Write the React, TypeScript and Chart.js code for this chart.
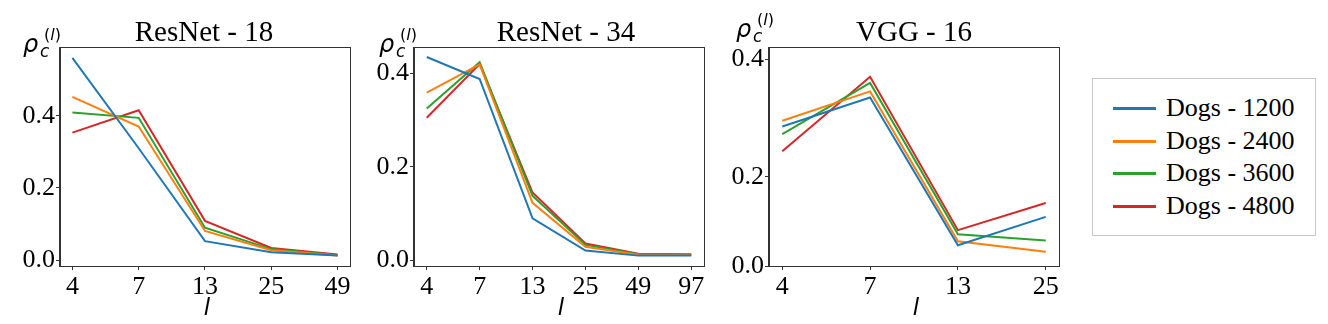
import React, { useEffect, useRef } from 'react';
import { Chart, registerables, LinearScale } from 'chart.js';

Chart.register(...registerables);

const POWER = 1.21;

class PowerScale extends LinearScale {
  static id = 'power';
  static defaults = LinearScale.defaults;
  getPixelForValue(value: any) {
    if (value === null || value === undefined || isNaN(value)) return NaN;
    const t = (v: number) => Math.sign(v) * Math.pow(Math.abs(v), POWER);
    const s = t((this as any).min);
    const e = t((this as any).max);
    return this.getPixelForDecimal((t(value) - s) / (e - s));
  }
  getValueForPixel(pixel: number) {
    const t = (v: number) => Math.sign(v) * Math.pow(Math.abs(v), POWER);
    const s = t((this as any).min);
    const e = t((this as any).max);
    const d = this.getDecimalForPixel(pixel);
    const tv = s + d * (e - s);
    return Math.sign(tv) * Math.pow(Math.abs(tv), 1 / POWER);
  }
}
Chart.register(PowerScale as any);

// ---------- data ----------
const seriesNames = ['Dogs - 1200', 'Dogs - 2400', 'Dogs - 3600', 'Dogs - 4800'];
const seriesColors = ['#1f77b4', '#ff7f0e', '#2ca02c', '#d62728'];

const resnet18Layers = ['4', '7', '13', '25', '49'];
const resnet18Dogs1200 = [0.56, 0.31, 0.053, 0.022, 0.013];
const resnet18Dogs2400 = [0.452, 0.37, 0.081, 0.028, 0.013];
const resnet18Dogs3600 = [0.409, 0.394, 0.09, 0.031, 0.014];
const resnet18Dogs4800 = [0.353, 0.415, 0.109, 0.034, 0.016];

const resnet34Layers = ['4', '7', '13', '25', '49', '97'];
const resnet34Dogs1200 = [0.435, 0.388, 0.09, 0.021, 0.01, 0.01];
const resnet34Dogs2400 = [0.359, 0.419, 0.123, 0.029, 0.012, 0.012];
const resnet34Dogs3600 = [0.325, 0.424, 0.138, 0.033, 0.013, 0.012];
const resnet34Dogs4800 = [0.305, 0.42, 0.145, 0.036, 0.014, 0.013];

const vgg16Layers = ['4', '7', '13', '25'];
const vgg16Dogs1200 = [0.289, 0.338, 0.06, 0.122];
const vgg16Dogs2400 = [0.299, 0.348, 0.069, 0.044];
const vgg16Dogs3600 = [0.276, 0.362, 0.085, 0.071];
const vgg16Dogs4800 = [0.246, 0.372, 0.094, 0.15];

const yTickStep = 0.2;

type PanelCfg = {
  title: string;
  labels: string[];
  series: number[][];
  left: number;
  width: number;
  axisLeft: number;
  padRight: number;
  xPad: number;
  yMin: number;
  yMax: number;
  yType: string;
  titleX: number;
  rhoX: number;
  rhoY: number;
};

const panels: PanelCfg[] = [
  {
    title: 'ResNet - 18',
    labels: resnet18Layers,
    series: [resnet18Dogs1200, resnet18Dogs2400, resnet18Dogs3600, resnet18Dogs4800],
    left: 0, width: 360, axisLeft: 60, padRight: 10, xPad: 0.187,
    yMin: -0.0158, yMax: 0.59, yType: 'linear', titleX: 204, rhoX: 24, rhoY: 52,
  },
  {
    title: 'ResNet - 34',
    labels: resnet34Layers,
    series: [resnet34Dogs1200, resnet34Dogs2400, resnet34Dogs3600, resnet34Dogs4800],
    left: 360, width: 360, axisLeft: 54, padRight: 16, xPad: 0.241,
    yMin: -0.0122, yMax: 0.4564, yType: 'linear', titleX: 206, rhoX: 20, rhoY: 52,
  },
  {
    title: 'VGG - 16',
    labels: vgg16Layers,
    series: [vgg16Dogs1200, vgg16Dogs2400, vgg16Dogs3600, vgg16Dogs4800],
    left: 720, width: 360, axisLeft: 49, padRight: 21, xPad: 0.151,
    yMin: 0, yMax: 0.4197, yType: 'power', titleX: 194, rhoX: 17, rhoY: 37,
  },
];

const AXIS_COLOR = '#333';

function makeDecorPlugin(cfg: PanelCfg) {
  return {
    id: 'decor',
    afterDraw(chart: any) {
      const { ctx, chartArea } = chart;
      ctx.save();
      ctx.strokeStyle = AXIS_COLOR;
      ctx.lineWidth = 1;
      const l = Math.round(chartArea.left) - 0.5;
      const t = Math.round(chartArea.top) + 0.5;
      const r = Math.round(chartArea.right) + 0.5;
      const b = Math.round(chartArea.bottom) + 0.5;
      ctx.strokeRect(l, t, r - l, b - t);
      // title
      ctx.fillStyle = '#000';
      ctx.textAlign = 'center';
      ctx.textBaseline = 'alphabetic';
      ctx.font = '29px "Liberation Serif"';
      ctx.fillText(cfg.title, cfg.titleX, 41);
      // x label
      ctx.font = 'italic 23px "DejaVu Sans"';
      ctx.fillText('l', (chartArea.left + chartArea.right) / 2 + 2, 315);
      // y label rho_c^(l)
      ctx.textAlign = 'left';
      ctx.font = 'italic 24px "DejaVu Sans"';
      ctx.fillText('ρ', cfg.rhoX - 1, cfg.rhoY);
      ctx.font = 'italic 17px "DejaVu Sans"';
      ctx.fillText('c', cfg.rhoX + 16, cfg.rhoY + 5);
      let sx = cfg.rhoX + 20;
      const sy = cfg.rhoY - 12;
      ctx.font = '16px "DejaVu Sans"';
      ctx.fillText('(', sx, sy);
      sx += ctx.measureText('(').width;
      ctx.font = 'italic 16px "DejaVu Sans"';
      ctx.fillText('l', sx, sy);
      sx += ctx.measureText('l').width;
      ctx.font = '16px "DejaVu Sans"';
      ctx.fillText(')', sx, sy);
      ctx.restore();
    },
  };
}

function Panel({ cfg }: { cfg: PanelCfg }) {
  const ref = useRef<HTMLCanvasElement | null>(null);
  useEffect(() => {
    if (!ref.current) return;
    const n = cfg.labels.length;
    const tickFont = { family: '"Liberation Serif"', size: 26 };
    const chart = new Chart(ref.current, {
      type: 'line',
      data: {
        datasets: cfg.series.map((vals, i) => ({
          label: seriesNames[i],
          data: vals.map((v, j) => ({ x: j, y: v })),
          borderColor: seriesColors[i],
          backgroundColor: seriesColors[i],
          borderWidth: 2,
          pointRadius: 0,
          fill: false,
          tension: 0,
        })),
      },
      options: {
        animation: false,
        responsive: false,
        devicePixelRatio: 1,
        layout: { padding: { top: 47, right: cfg.padRight, left: 0, bottom: 0 } },
        plugins: {
          legend: { display: false },
          tooltip: { enabled: false },
          title: { display: false },
        },
        scales: {
          x: {
            type: 'linear',
            min: -cfg.xPad,
            max: n - 1 + cfg.xPad,
            afterBuildTicks: (s: any) => {
              s.ticks = cfg.labels.map((_, i) => ({ value: i }));
            },
            ticks: {
              callback: (v: any) => cfg.labels[Math.round(v)] ?? '',
              font: tickFont,
              color: '#000',
              padding: 2,
              maxRotation: 0,
              autoSkip: false,
            },
            grid: { drawOnChartArea: false, tickLength: 4, color: AXIS_COLOR, tickColor: AXIS_COLOR },
            border: { color: AXIS_COLOR, width: 1 },
            afterFit: (s: any) => { s.height = 58; },
          },
          y: {
            type: cfg.yType as any,
            min: cfg.yMin,
            max: cfg.yMax,
            ticks: {
              stepSize: yTickStep,
              includeBounds: false,
              callback: (v: any) => Number(v).toFixed(1),
              font: tickFont,
              color: '#000',
              padding: 1,
            },
            grid: { drawOnChartArea: false, tickLength: 4, color: AXIS_COLOR, tickColor: AXIS_COLOR },
            border: { color: AXIS_COLOR, width: 1 },
            afterFit: (s: any) => { s.width = cfg.axisLeft; },
          },
        } as any,
      },
      plugins: [makeDecorPlugin(cfg)],
    } as any);
    return () => chart.destroy();
  }, [cfg]);
  return (
    <canvas
      ref={ref}
      width={cfg.width}
      height={324}
      style={{ position: 'absolute', left: cfg.left, top: 0, width: cfg.width, height: 324 }}
    />
  );
}

function Legend() {
  const rowY = [107, 140, 172, 205];
  return (
    <div
      style={{
        position: 'absolute',
        left: 1092,
        top: 78,
        width: 224,
        height: 158,
        border: '1.5px solid #c8c8c8',
        boxSizing: 'border-box',
        background: '#fff',
      }}
    >
      {seriesNames.map((name, i) => (
        <React.Fragment key={name}>
          <div
            style={{
              position: 'absolute',
              left: 1112 - 1092,
              top: rowY[i] - 78 - 1.5,
              width: 43,
              height: 3,
              background: seriesColors[i],
            }}
          />
          <div
            style={{
              position: 'absolute',
              left: 1165 - 1092,
              top: rowY[i] - 78 - 16,
              height: 32,
              lineHeight: '32px',
              fontFamily: '"Liberation Serif"',
              fontSize: 26,
              color: '#000',
              whiteSpace: 'nowrap',
            }}
          >
            {name}
          </div>
        </React.Fragment>
      ))}
    </div>
  );
}

export default function App() {
  return (
    <div style={{ position: 'fixed', left: 0, top: 0, width: 1328, height: 324, background: '#fff', overflow: 'hidden' }}>
      {panels.map((p) => (
        <Panel key={p.title} cfg={p} />
      ))}
      <Legend />
    </div>
  );
}
